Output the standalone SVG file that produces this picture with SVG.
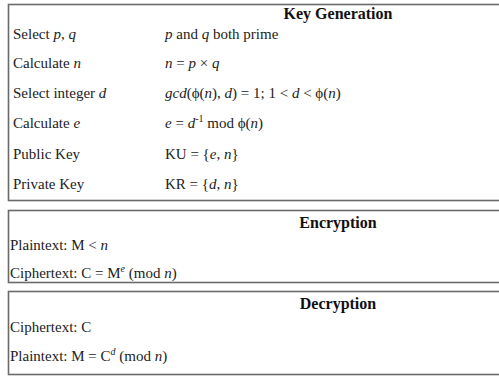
<svg xmlns="http://www.w3.org/2000/svg" width="499" height="376" viewBox="0 0 499 376">
<style>
.box{fill:#fff;stroke:#6a6a6a;stroke-width:1.6}
.t{font-family:"Liberation Serif","Times New Roman",serif;font-size:15px;fill:#222}
.h{font-family:"Liberation Serif","Times New Roman",serif;font-size:16px;font-weight:bold;fill:#111;text-anchor:middle}
.i{font-style:italic}
.s{font-size:10px}
</style>
<rect width="499" height="376" fill="#fff"/>
<g id="keygen">
<rect class="box" x="8.5" y="4.5" width="500" height="196"/>
<text class="h" x="338" y="19">Key Generation</text>
<text class="t" x="13" y="39">Select <tspan class="i">p</tspan>, <tspan class="i">q</tspan></text>
<text class="t" x="165" y="39"><tspan class="i">p</tspan> and <tspan class="i">q</tspan> both prime</text>
<text class="t" x="13" y="68">Calculate <tspan class="i">n</tspan></text>
<text class="t" x="165" y="68"><tspan class="i">n</tspan> = <tspan class="i">p</tspan> × <tspan class="i">q</tspan></text>
<text class="t" x="13" y="98">Select integer <tspan class="i">d</tspan></text>
<text class="t" x="165" y="98"><tspan class="i">gcd</tspan>(ϕ(<tspan class="i">n</tspan>), <tspan class="i">d</tspan>) = 1; 1 &lt; <tspan class="i">d</tspan> &lt; ϕ(<tspan class="i">n</tspan>)</text>
<text class="t" x="13" y="128">Calculate <tspan class="i">e</tspan></text>
<text class="t" x="165" y="128"><tspan class="i">e</tspan> = <tspan class="i">d</tspan><tspan class="s" dy="-6">-1</tspan><tspan dy="6"> mod ϕ(<tspan class="i">n</tspan>)</tspan></text>
<text class="t" x="13" y="159">Public Key</text>
<text class="t" x="165" y="159">KU = {<tspan class="i">e</tspan>, <tspan class="i">n</tspan>}</text>
<text class="t" x="13" y="189">Private Key</text>
<text class="t" x="165" y="189">KR = {<tspan class="i">d</tspan>, <tspan class="i">n</tspan>}</text>
</g>
<g id="encryption">
<rect class="box" x="8.5" y="210.5" width="500" height="72"/>
<text class="h" x="338" y="228">Encryption</text>
<text class="t" x="10" y="250">Plaintext: M &lt; <tspan class="i">n</tspan></text>
<text class="t" x="10" y="278">Ciphertext: C = M<tspan class="s i" dy="-6">e</tspan><tspan dy="6"> (mod <tspan class="i">n</tspan>)</tspan></text>
</g>
<g id="decryption">
<rect class="box" x="8.5" y="291.5" width="500" height="83"/>
<text class="h" x="338" y="309">Decryption</text>
<text class="t" x="10" y="332">Ciphertext: C</text>
<text class="t" x="10" y="361">Plaintext: M = C<tspan class="s i" dy="-6">d</tspan><tspan dy="6"> (mod <tspan class="i">n</tspan>)</tspan></text>
</g>
</svg>
